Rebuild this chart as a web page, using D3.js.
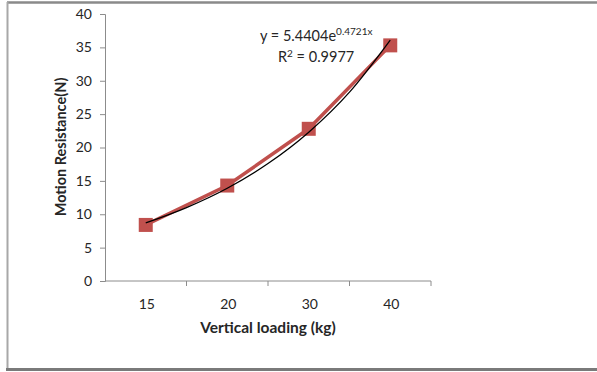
<!DOCTYPE html>
<html>
<head>
<meta charset="utf-8">
<script src="https://cdn.jsdelivr.net/npm/d3@7"></script>
<style>
    body { margin: 0; background: #fff; }
    svg text { font-family: Lato, "Open Sans", sans-serif; fill: #262626; }
</style>
</head>
<body>
<div id="chart"></div>
<script>
// values
const loads = ['15', '20', '30', '40'];
const resistance = [8.4, 14.3, 22.8, 35.3];
const yTicks = [0, 5, 10, 15, 20, 25, 30, 35, 40];
// exponential trendline, read at half-category steps
const trendPos = [0, 0.5, 1, 1.5, 2, 2.5, 3];
const trendVals = [8.7, 11.0, 13.9, 17.6, 22.3, 28.3, 36.1];

const width = 597;
const height = 372;
const plot = { left: 105, right: 431, top: 14, bottom: 281 };

const svg = d3.select('#chart')
    .append('svg')
    .attr('width', width)
    .attr('height', height);

// chart frame
svg.append('line').attr('x1', 7).attr('x2', width).attr('y1', 2.5).attr('y2', 2.5)
    .attr('stroke', '#8a8a8a').attr('stroke-width', 2.5);
svg.append('line').attr('x1', 7.5).attr('x2', 7.5).attr('y1', 2).attr('y2', 369)
    .attr('stroke', '#a8a8a8').attr('stroke-width', 2);
svg.append('line').attr('x1', 6).attr('x2', width).attr('y1', 369.5).attr('y2', 369.5)
    .attr('stroke', '#7a7a7a').attr('stroke-width', 3);

const x = d3.scaleBand()
    .domain(loads)
    .range([plot.left, plot.right]);

const y = d3.scaleLinear()
    .domain([0, 40])
    .range([plot.bottom, plot.top]);

const xPos = d3.scaleLinear()
    .domain([0, loads.length - 1])
    .range([x(loads[0]) + x.bandwidth() / 2, x(loads[loads.length - 1]) + x.bandwidth() / 2]);

// y axis
const yAxis = svg.append('g')
    .attr('transform', `translate(${plot.left},0)`)
    .call(d3.axisLeft(y).tickValues(yTicks).tickSize(5).tickPadding(8));
yAxis.selectAll('line, path').attr('stroke', '#8c8c8c');
yAxis.selectAll('text').style('font-size', '14px').style('font-family', 'Lato, sans-serif').attr('fill', '#262626');

// x axis with ticks between categories
const xAxis = svg.append('g')
    .attr('transform', `translate(0,${plot.bottom})`);
xAxis.append('line')
    .attr('x1', plot.left).attr('x2', plot.right)
    .attr('stroke', '#8c8c8c');
xAxis.selectAll('.tk')
    .data(loads)
    .enter().append('line')
    .attr('x1', d => x(d) + x.bandwidth()).attr('x2', d => x(d) + x.bandwidth())
    .attr('y1', 0).attr('y2', 5)
    .attr('stroke', '#8c8c8c');
xAxis.selectAll('.lbl')
    .data(loads)
    .enter().append('text')
    .attr('x', d => x(d) + x.bandwidth() / 2 + 1)
    .attr('y', 28)
    .attr('text-anchor', 'middle')
    .style('font-size', '14px')
    .text(d => d);

// series line and markers
const line = d3.line()
    .x((d, i) => x(loads[i]) + x.bandwidth() / 2)
    .y(d => y(d));

svg.append('path')
    .datum(resistance)
    .attr('d', line)
    .attr('fill', 'none')
    .attr('stroke', '#c0504d')
    .attr('stroke-width', 3.5);

svg.selectAll('.marker')
    .data(resistance)
    .enter().append('rect')
    .attr('x', (d, i) => x(loads[i]) + x.bandwidth() / 2 - 7)
    .attr('y', d => y(d) - 7)
    .attr('width', 14)
    .attr('height', 14)
    .attr('fill', '#c0504d');

// trendline
const trend = d3.line()
    .curve(d3.curveMonotoneX)
    .x((d, i) => xPos(trendPos[i]))
    .y(d => y(d));

svg.append('path')
    .datum(trendVals)
    .attr('d', trend)
    .attr('fill', 'none')
    .attr('stroke', '#000')
    .attr('stroke-width', 1.3);

// trendline label
const eq = svg.append('text')
    .attr('x', 260)
    .attr('y', 41)
    .style('font-size', '14.5px');
eq.append('tspan').text('y = 5.4404e');
eq.append('tspan').attr('dy', -6).style('font-size', '10px').text('0.4721x');

const r2 = svg.append('text')
    .attr('x', 278)
    .attr('y', 62)
    .style('font-size', '14.5px');
r2.append('tspan').text('R');
r2.append('tspan').attr('dy', -5).style('font-size', '10px').text('2');
r2.append('tspan').attr('dy', 5).text(' = 0.9977');

// axis titles
svg.append('text')
    .attr('x', 268)
    .attr('y', 333)
    .attr('text-anchor', 'middle')
    .style('font-size', '15.5px')
    .style('font-weight', 'bold')
    .text('Vertical loading (kg)');

svg.append('text')
    .attr('transform', 'translate(66,147) rotate(-90)')
    .attr('text-anchor', 'middle')
    .style('font-size', '14.5px')
    .style('font-weight', 'bold')
    .text('Motion Resistance(N)');
</script>
</body>
</html>
